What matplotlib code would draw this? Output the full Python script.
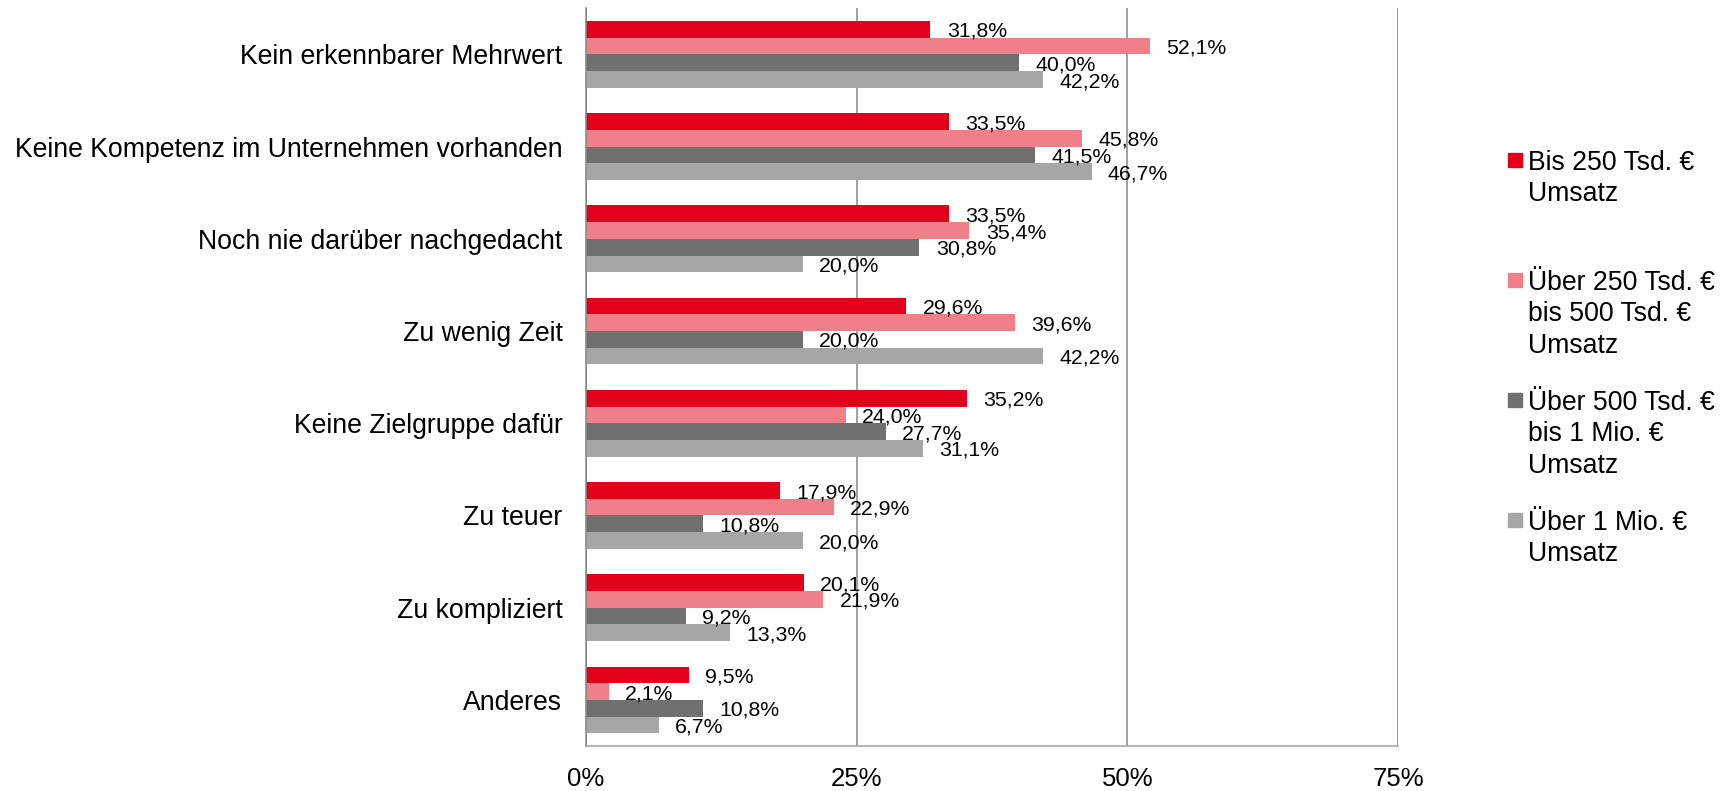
import matplotlib
matplotlib.use("Agg")
import matplotlib.pyplot as plt
from matplotlib.patches import Rectangle
import numpy as np

plt.rcParams['font.family'] = ['Liberation Sans', 'DejaVu Sans']

categories = [
    "Kein erkennbarer Mehrwert",
    "Keine Kompetenz im Unternehmen vorhanden",
    "Noch nie darüber nachgedacht",
    "Zu wenig Zeit",
    "Keine Zielgruppe dafür",
    "Zu teuer",
    "Zu kompliziert",
    "Anderes",
]
series_names = [
    "Bis 250 Tsd. €\nUmsatz",
    "Über 250 Tsd. €\nbis 500 Tsd. €\nUmsatz",
    "Über 500 Tsd. €\nbis 1 Mio. €\nUmsatz",
    "Über 1 Mio. €\nUmsatz",
]
bis250 = [31.8, 33.5, 33.5, 29.6, 35.2, 17.9, 20.1, 9.5]
ueber250_500 = [52.1, 45.8, 35.4, 39.6, 24.0, 22.9, 21.9, 2.1]
ueber500_1mio = [40.0, 41.5, 30.8, 20.0, 27.7, 10.8, 9.2, 10.8]
ueber1mio = [42.2, 46.7, 20.0, 42.2, 31.1, 20.0, 13.3, 6.7]
x_ticks = [0, 25, 50, 75]
x_ticklabels = ["0%", "25%", "50%", "75%"]

series = [bis250, ueber250_500, ueber500_1mio, ueber1mio]
colors = ["#E2001A", "#EF808A", "#707070", "#A6A6A6"]

W, H = 1733, 791
fig = plt.figure(figsize=(W / 100, H / 100), dpi=100)
ax = fig.add_axes([586 / W, 1 - 746 / H, (1398 - 586) / W, (746 - 8.3) / H])

y = np.arange(len(categories))
h = 0.181
for i, (vals, col) in enumerate(zip(series, colors)):
    pos = y + (i - 1.5) * h
    ax.barh(pos, vals, height=h, color=col, zorder=2, edgecolor='none')
    for p, v in zip(pos, vals):
        ax.annotate(f"{v:.1f}".replace('.', ',') + "%", xy=(v, p),
                    xytext=(11.8, -1.5), textcoords='offset points',
                    ha='left', va='center', fontsize=15.3, color='black', zorder=3)

ax.set_ylim(len(categories) - 0.5, -0.5)
ax.set_xlim(0, 75)
ax.set_xticks(x_ticks)
ax.set_xticklabels(x_ticklabels, fontsize=18.5)
ax.set_yticks(y)
ax.set_yticklabels(categories, fontsize=19.2)
ax.tick_params(axis='both', length=0)
ax.tick_params(axis='x', pad=15)
ax.tick_params(axis='y', pad=17)

ax.grid(axis='x', color='#868686', linewidth=1.1, zorder=1)
ax.set_axisbelow(True)
for s in ['top', 'right']:
    ax.spines[s].set_visible(False)
ax.spines['left'].set_color('#868686')
ax.spines['left'].set_linewidth(1.1)
ax.spines['bottom'].set_color('#A0A0A0')
ax.spines['bottom'].set_linewidth(1.1)

# legend drawn manually
first_centers = [160, 280, 400, 520]
pitch = 31.7
fs = 19.2
cap = 0.716 * fs * 100 / 72
for name, col, yc in zip(series_names, colors, first_centers):
    fig.patches.append(Rectangle((1508 / W, 1 - (yc + 7) / H), 14 / W, 14 / H,
                                 transform=fig.transFigure, color=col))
    for k, line in enumerate(name.split("\n")):
        yl = yc + k * pitch + cap / 2
        fig.text(1528 / W, 1 - yl / H, line, fontsize=fs, ha='left', va='baseline')

fig.savefig("out.png", dpi=100)
